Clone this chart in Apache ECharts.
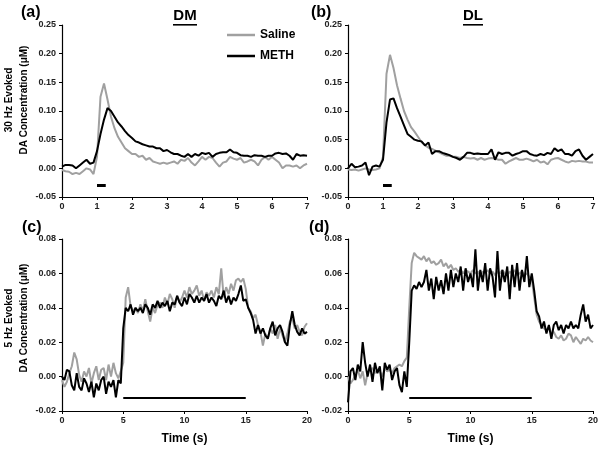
<!DOCTYPE html>
<html>
<head>
<meta charset="utf-8">
<script src="https://cdn.jsdelivr.net/npm/echarts@6/dist/echarts.min.js"></script>
<style>html,body{margin:0;padding:0;background:#fff}#c{width:602px;height:455px}</style>
</head>
<body>
<div id="c"></div>
<script>
// ---- data ----
var xTicksTop = [0,1,2,3,4,5,6,7];
var xTicksBottom = [0,5,10,15,20];
var stepTop = 0.1;      // s, sampling of 30 Hz traces
var stepBottom = 0.2;   // s, sampling of 5 Hz traces

var salineDM30 = [-0.003,-0.005,-0.006,-0.010,-0.008,-0.010,-0.005,0.000,-0.002,-0.010,
  0.020,0.125,0.148,0.120,0.090,0.070,0.055,0.045,0.035,0.030,
  0.025,0.025,0.020,0.022,0.015,0.018,0.012,0.010,0.008,0.010,
  0.008,0.010,0.012,0.008,0.015,0.013,0.018,0.010,0.005,0.012,
  0.020,0.015,0.020,0.018,0.010,0.003,0.010,0.012,0.020,0.017,
  0.015,0.018,0.010,0.012,0.015,0.012,0.005,0.015,0.020,0.015,
  0.020,0.015,0.010,0.000,0.005,0.005,0.003,0.005,0.000,0.005,0.008];
var methDM30 = [0.003,0.006,0.006,0.005,0.000,0.005,0.010,0.015,0.008,0.010,
  0.030,0.060,0.085,0.105,0.100,0.090,0.080,0.073,0.065,0.058,
  0.053,0.047,0.045,0.042,0.040,0.038,0.038,0.035,0.035,0.030,
  0.032,0.028,0.025,0.025,0.022,0.020,0.025,0.020,0.025,0.022,
  0.027,0.025,0.027,0.020,0.025,0.027,0.028,0.028,0.033,0.028,
  0.027,0.023,0.022,0.022,0.020,0.023,0.022,0.022,0.020,0.022,
  0.022,0.026,0.027,0.025,0.026,0.022,0.015,0.025,0.022,0.023,0.022];
var salineDL30 = [-0.002,-0.003,-0.002,-0.004,-0.002,0.000,-0.002,-0.003,-0.002,0.000,
  0.020,0.165,0.198,0.175,0.145,0.122,0.100,0.085,0.072,0.064,
  0.055,0.046,0.040,0.036,0.034,0.031,0.028,0.025,0.022,0.022,
  0.020,0.020,0.018,0.020,0.018,0.017,0.018,0.015,0.018,0.015,
  0.017,0.018,0.017,0.015,0.015,0.008,0.012,0.015,0.018,0.015,
  0.015,0.017,0.015,0.012,0.015,0.010,0.012,0.007,0.015,0.017,
  0.018,0.015,0.012,0.010,0.013,0.012,0.013,0.012,0.012,0.010,0.010];
var methDL30 = [0.000,0.008,0.002,0.003,0.005,0.010,-0.012,0.003,0.005,0.003,
  0.015,0.080,0.120,0.122,0.105,0.090,0.075,0.060,0.055,0.050,
  0.048,0.047,0.040,0.045,0.025,0.030,0.030,0.027,0.025,0.023,
  0.020,0.018,0.015,0.020,0.027,0.027,0.025,0.026,0.025,0.025,
  0.025,0.033,0.015,0.028,0.025,0.027,0.027,0.022,0.025,0.027,
  0.030,0.030,0.025,0.023,0.022,0.025,0.023,0.027,0.025,0.035,
  0.030,0.033,0.025,0.025,0.022,0.030,0.033,0.022,0.015,0.020,0.025];

var salineDM5 = [-0.002,-0.006,-0.003,0.002,0.006,0.014,0.010,0.001,-0.003,0.003,
  0.000,0.005,-0.004,0.002,0.006,-0.002,0.004,0.005,-0.002,0.007,
  0.000,0.008,0.002,-0.001,0.003,0.008,0.046,0.052,0.041,0.038,
  0.040,0.037,0.042,0.038,0.045,0.038,0.032,0.040,0.037,0.042,
  0.043,0.040,0.046,0.042,0.048,0.045,0.040,0.047,0.043,0.046,
  0.050,0.046,0.052,0.048,0.050,0.053,0.047,0.050,0.044,0.049,
  0.047,0.050,0.046,0.052,0.048,0.063,0.046,0.052,0.048,0.054,
  0.050,0.056,0.057,0.055,0.057,0.051,0.040,0.038,0.034,0.036,
  0.030,0.026,0.018,0.025,0.022,0.028,0.025,0.030,0.022,0.028,
  0.024,0.020,0.025,0.032,0.034,0.028,0.030,0.026,0.024,0.029,0.031];
var methDM5 = [0.000,-0.002,0.004,0.003,-0.005,-0.008,0.002,-0.006,-0.008,-0.001,
  -0.004,-0.009,-0.003,-0.012,-0.004,-0.008,-0.002,0.000,-0.010,-0.003,
  -0.006,-0.002,-0.012,-0.002,-0.004,0.028,0.040,0.038,0.042,0.036,
  0.040,0.038,0.040,0.037,0.042,0.040,0.036,0.042,0.040,0.044,
  0.040,0.043,0.041,0.044,0.038,0.043,0.042,0.047,0.043,0.041,
  0.046,0.042,0.048,0.046,0.043,0.047,0.043,0.046,0.044,0.048,
  0.043,0.046,0.044,0.041,0.047,0.045,0.050,0.043,0.047,0.042,
  0.046,0.044,0.048,0.053,0.044,0.045,0.040,0.037,0.033,0.025,
  0.030,0.025,0.028,0.024,0.022,0.028,0.032,0.024,0.028,0.030,
  0.026,0.020,0.018,0.030,0.038,0.030,0.026,0.024,0.028,0.025,0.026];
var salineDL5 = [0.000,-0.004,-0.002,0.001,0.004,-0.001,0.003,-0.005,0.002,0.004,
  0.005,0.002,0.004,0.003,0.000,0.005,0.003,0.004,0.002,0.005,
  0.006,0.007,0.006,0.009,0.011,0.040,0.066,0.072,0.070,0.069,
  0.068,0.070,0.067,0.069,0.066,0.067,0.065,0.066,0.068,0.064,
  0.066,0.063,0.065,0.062,0.063,0.061,0.062,0.060,0.062,0.061,
  0.060,0.062,0.060,0.061,0.059,0.061,0.060,0.062,0.060,0.061,
  0.059,0.061,0.060,0.062,0.060,0.059,0.061,0.060,0.062,0.059,
  0.060,0.061,0.059,0.060,0.058,0.057,0.046,0.036,0.032,0.030,
  0.028,0.027,0.029,0.025,0.026,0.023,0.022,0.024,0.021,0.022,
  0.025,0.024,0.020,0.023,0.021,0.019,0.022,0.021,0.023,0.021,0.020];
var methDL5 = [-0.015,0.003,0.005,-0.002,0.007,0.003,0.020,0.008,0.000,0.007,
  -0.003,0.008,0.002,0.006,-0.008,0.008,0.004,0.007,-0.002,0.003,
  0.005,-0.005,-0.009,0.003,-0.006,0.020,0.050,0.053,0.051,0.055,
  0.052,0.055,0.062,0.050,0.057,0.045,0.058,0.050,0.056,0.048,
  0.060,0.050,0.062,0.052,0.060,0.055,0.064,0.050,0.063,0.055,
  0.060,0.052,0.074,0.050,0.062,0.055,0.066,0.050,0.063,0.058,
  0.046,0.073,0.050,0.062,0.055,0.064,0.045,0.065,0.052,0.066,
  0.050,0.062,0.055,0.070,0.052,0.060,0.050,0.038,0.035,0.028,
  0.032,0.025,0.030,0.022,0.030,0.032,0.027,0.030,0.025,0.030,
  0.028,0.032,0.028,0.030,0.028,0.036,0.042,0.032,0.036,0.028,0.030];

// stimulation bars [start, end, level]
var stimTop = [1.0, 1.25, -0.03];
var stimBottom = [5.0, 15.0, -0.0125];

// ---- chart ----
function pairs(vals, step){
  var out = [];
  for (var i = 0; i < vals.length; i++) out.push([+(i*step).toFixed(2), vals[i]]);
  return out;
}
function stim(s){ return [[s[0], s[2]], [s[1], s[2]]]; }

var FONT = 'Liberation Sans, Arial, sans-serif';
var GRAY = '#a0a0a0';
var grids = [
  {left: 62, top: 25, width: 245, height: 172},
  {left: 348, top: 25, width: 245, height: 172},
  {left: 62, top: 239, width: 245, height: 172},
  {left: 348, top: 239, width: 245, height: 172}
];
function xAx(i, max, interval, name){
  return {type:'value', gridIndex:i, min:0, max:max, interval:interval,
    name: name || '', nameLocation:'middle', nameGap: 22,
    nameTextStyle:{fontFamily:FONT, fontWeight:'bold', fontSize:12, color:'#000'},
    axisLine:{show:true, onZero:false, lineStyle:{color:'#000', width:1.2}},
    axisTick:{show:true, length:3, lineStyle:{color:'#000'}},
    axisLabel:{fontFamily:FONT, fontWeight:'bold', fontSize:9, color:'#222', margin:5},
    splitLine:{show:false}};
}
function yAx(i, min, max, interval){
  return {type:'value', gridIndex:i, min:min, max:max, interval:interval,
    axisLine:{show:true, onZero:false, lineStyle:{color:'#000', width:1.2}},
    axisTick:{show:true, length:3, lineStyle:{color:'#000'}},
    axisLabel:{fontFamily:FONT, fontWeight:'bold', fontSize:9, color:'#222', margin:6,
      formatter:function(v){ return v.toFixed(2); }},
    splitLine:{show:false}};
}
function line(name, i, data, color, z){
  return {name:name, type:'line', xAxisIndex:i, yAxisIndex:i, data:data,
    symbol:'none', smooth:false, lineStyle:{color:color, width:2}, itemStyle:{color:color},
    z:z, animation:false};
}
function bar(i, s){
  return {type:'line', xAxisIndex:i, yAxisIndex:i, data:stim(s), symbol:'none',
    lineStyle:{color:'#000', width: i<2 ? 3 : 2}, z:5, animation:false, silent:true};
}

var series = [
  line('Saline', 0, pairs(salineDM30, stepTop), GRAY, 2),
  line('METH', 0, pairs(methDM30, stepTop), '#000', 3),
  bar(0, stimTop),
  line('Saline', 1, pairs(salineDL30, stepTop), GRAY, 2),
  line('METH', 1, pairs(methDL30, stepTop), '#000', 3),
  bar(1, stimTop),
  line('Saline', 2, pairs(salineDM5, stepBottom), GRAY, 2),
  line('METH', 2, pairs(methDM5, stepBottom), '#000', 3),
  bar(2, stimBottom),
  line('Saline', 3, pairs(salineDL5, stepBottom), GRAY, 2),
  line('METH', 3, pairs(methDL5, stepBottom), '#000', 3),
  bar(3, stimBottom)
];

function txt(x, y, s, size, opts){
  var o = {type:'text', x:x, y:y, style:{text:s, fill:'#000', font:'bold '+size+'px '+FONT,
    textAlign:(opts&&opts.align)||'left', textVerticalAlign:'middle'}};
  if (opts && opts.rot) { o.rotation = opts.rot; }
  return o;
}
var graphics = [
  txt(21, 13, '(a)', 16), txt(311, 13, '(b)', 16),
  txt(22, 228, '(c)', 16), txt(309, 228, '(d)', 16),
  txt(185, 16, 'DM', 15, {align:'center'}),
  {type:'rect', shape:{x:173, y:24, width:24, height:1.6}, style:{fill:'#000'}},
  txt(473, 16, 'DL', 15, {align:'center'}),
  {type:'rect', shape:{x:463, y:24, width:20, height:1.6}, style:{fill:'#000'}},
  txt(9, 100, '30 Hz Evoked', 10, {align:'center', rot:Math.PI/2}),
  txt(24, 100, 'DA Concentration (μM)', 10, {align:'center', rot:Math.PI/2}),
  txt(9, 318, '5 Hz Evoked', 10, {align:'center', rot:Math.PI/2}),
  txt(24, 318, 'DA Concentration (μM)', 10, {align:'center', rot:Math.PI/2})
];

var chart = echarts.init(document.getElementById('c'), null, {renderer:'canvas'});
chart.setOption({
  animation:false,
  backgroundColor:'#fff',
  grid: grids,
  xAxis: [xAx(0,7,1), xAx(1,7,1), xAx(2,20,5,'Time (s)'), xAx(3,20,5,'Time (s)')],
  yAxis: [yAx(0,-0.05,0.25,0.05), yAx(1,-0.05,0.25,0.05), yAx(2,-0.02,0.08,0.02), yAx(3,-0.02,0.08,0.02)],
  legend: {data:['Saline','METH'], left:222, top:24, orient:'vertical', icon:'rect',
    itemWidth:28, itemHeight:2.5, itemGap:9,
    textStyle:{fontFamily:FONT, fontWeight:'bold', fontSize:12, color:'#000'}},
  series: series,
  graphic: graphics
});
</script>
</body>
</html>
